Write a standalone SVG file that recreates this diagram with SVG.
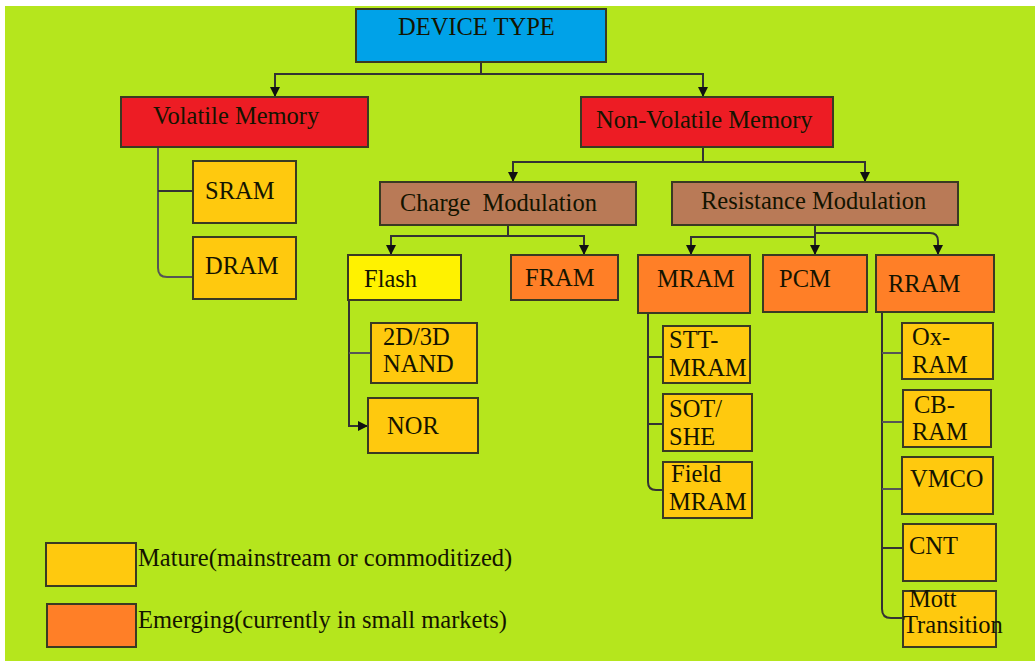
<svg xmlns="http://www.w3.org/2000/svg" width="1035" height="661" viewBox="0 0 1035 661">
<defs>
<marker id="ah" viewBox="0 0 10 10" refX="9" refY="5" markerWidth="10" markerHeight="10" markerUnits="userSpaceOnUse" orient="auto">
<path d="M0,0 L10,5 L0,10 z" fill="#111"/>
</marker>
<style>
.box{stroke:#3a3a22;stroke-width:2}
.blue{fill:#00a2e8}.red{fill:#ed1c24}.brown{fill:#b97a57}.yel{fill:#fff200}.org{fill:#ff7f27}.gold{fill:#ffc90e}
text{font-family:"Liberation Serif","Times New Roman",serif;font-size:24.5px;fill:#141400}
.c{fill:none;stroke:#333;stroke-width:2}
.cg{fill:none;stroke:#555;stroke-width:2}
</style>
</defs>
<rect x="0" y="0" width="1035" height="661" fill="#ffffff"/>
<rect x="5" y="6" width="1030" height="655" fill="#b5e61d"/>

<g id="connectors">
<path class="c" d="M481,62 V74 H275 V96" marker-end="url(#ah)"/>
<path class="c" d="M481,74 H703 V96" marker-end="url(#ah)"/>
<path class="c" d="M703,147 V162 H513 V181" marker-end="url(#ah)"/>
<path class="c" d="M703,162 H865 V181" marker-end="url(#ah)"/>
<path class="c" d="M508,225 V236 H391 V254" marker-end="url(#ah)"/>
<path class="c" d="M508,236 H584 V254" marker-end="url(#ah)"/>
<path class="c" d="M815,225 V237 H691 V254" marker-end="url(#ah)"/>
<path class="c" d="M815,237 V254" marker-end="url(#ah)"/>
<path class="c" d="M815,233 H930 Q938,233 938,241 V254" marker-end="url(#ah)"/>
<path class="cg" d="M158,147 V268 Q158,277 167,277 H193"/>
<path class="c" d="M158,191 H193"/>
<path class="c" d="M349,300 V426 H367" marker-end="url(#ah)"/>
<path class="cg" d="M349,353 H371"/>
<path class="c" d="M648,313 V482 Q648,490 656,490 H663"/>
<path class="c" d="M648,357 H663"/>
<path class="c" d="M648,424 H663"/>
<path class="c" d="M882,312 V609 Q882,618 891,618 H903"/>
<path class="cg" d="M882,353 H902"/>
<path class="cg" d="M882,422 H903"/>
<path class="cg" d="M882,489 H902"/>
<path class="c" d="M882,548 H903"/>
</g>

<g id="device-type"><rect class="box blue" x="356" y="9" width="250" height="53"/><text x="398" y="35">DEVICE TYPE</text></g>
<g id="volatile"><rect class="box red" x="121" y="97" width="247" height="50"/><text x="153" y="124">Volatile Memory</text></g>
<g id="non-volatile"><rect class="box red" x="581" y="97" width="252" height="50"/><text x="596" y="128">Non-Volatile Memory</text></g>
<g id="charge"><rect class="box brown" x="380" y="182" width="256" height="43"/><text x="400" y="211" xml:space="preserve">Charge  Modulation</text></g>
<g id="resistance"><rect class="box brown" x="672" y="182" width="286" height="43"/><text x="701" y="209">Resistance Modulation</text></g>
<g id="sram"><rect class="box gold" x="193" y="161" width="103" height="62"/><text x="205" y="199">SRAM</text></g>
<g id="dram"><rect class="box gold" x="193" y="237" width="103" height="62"/><text x="205" y="274">DRAM</text></g>
<g id="flash"><rect class="box yel" x="348" y="255" width="113" height="45"/><text x="364" y="287">Flash</text></g>
<g id="fram"><rect class="box org" x="511" y="255" width="107" height="45"/><text x="525" y="286">FRAM</text></g>
<g id="mram"><rect class="box org" x="638" y="255" width="112" height="58"/><text x="657" y="287">MRAM</text></g>
<g id="pcm"><rect class="box org" x="763" y="255" width="104" height="57"/><text x="779" y="287">PCM</text></g>
<g id="rram"><rect class="box org" x="876" y="255" width="118" height="57"/><text x="888" y="292">RRAM</text></g>
<g id="nand"><rect class="box gold" x="371" y="323" width="106" height="60"/><text x="383" y="345">2D/3D</text><text x="383" y="372">NAND</text></g>
<g id="nor"><rect class="box gold" x="368" y="398" width="110" height="55"/><text x="387" y="434">NOR</text></g>
<g id="stt"><rect class="box gold" x="663" y="326" width="87" height="57"/><text x="669" y="348">STT-</text><text x="669" y="376">MRAM</text></g>
<g id="sot"><rect class="box gold" x="663" y="394" width="89" height="57"/><text x="669" y="417">SOT/</text><text x="669" y="445">SHE</text></g>
<g id="field"><rect class="box gold" x="663" y="462" width="89" height="56"/><text x="671" y="482">Field</text><text x="669" y="510">MRAM</text></g>
<g id="oxram"><rect class="box gold" x="902" y="323" width="91" height="56"/><text x="912" y="345">Ox-</text><text x="912" y="373">RAM</text></g>
<g id="cbram"><rect class="box gold" x="903" y="390" width="88" height="57"/><text x="914" y="413">CB-</text><text x="912" y="440">RAM</text></g>
<g id="vmco"><rect class="box gold" x="902" y="457" width="91" height="57"/><text x="910" y="487">VMCO</text></g>
<g id="cnt"><rect class="box gold" x="903" y="524" width="93" height="57"/><text x="909" y="554">CNT</text></g>
<g id="mott"><rect class="box gold" x="903" y="591" width="93" height="56"/><text x="909" y="607">Mott</text><text x="903" y="633">Transition</text></g>

<g id="legend-mature"><rect class="box gold" x="46" y="543" width="90" height="43"/><text x="138" y="566">Mature(mainstream or commoditized)</text></g>
<g id="legend-emerging"><rect class="box org" x="47" y="604" width="89" height="43"/><text x="138" y="628">Emerging(currently in small markets)</text></g>
</svg>
